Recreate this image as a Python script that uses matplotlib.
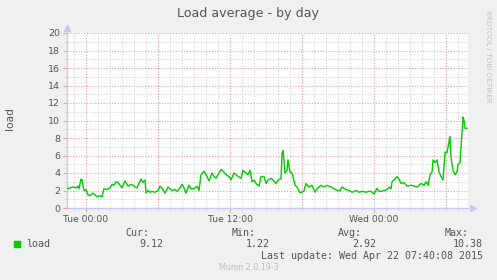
import matplotlib
matplotlib.use("Agg")
import matplotlib.pyplot as plt
from matplotlib.patches import Rectangle
from matplotlib.ticker import MultipleLocator

# hours since Tue 00:00
hours = [-1.58, -1.33, -1.08, -0.83, -0.67, -0.58, -0.42, -0.33, -0.17, 0.0,
         0.17, 0.33, 0.58, 0.75, 0.92, 1.17, 1.33, 1.5, 1.75, 2.0,
         2.17, 2.33, 2.5, 2.67, 2.83, 3.0, 3.25, 3.5, 3.75, 3.92,
         4.08, 4.25, 4.42, 4.58, 4.75, 4.92, 5.0, 5.17, 5.33, 5.5,
         5.75, 6.0, 6.17, 6.42, 6.58, 6.83, 7.0, 7.17, 7.42, 7.58,
         7.83, 8.0, 8.17, 8.33, 8.58, 8.75, 9.0, 9.25, 9.42, 9.58,
         9.83, 10.08, 10.25, 10.5, 10.67, 10.83, 11.08, 11.25, 11.5, 11.75,
         11.92, 12.08, 12.33, 12.58, 12.92, 13.08, 13.33, 13.5, 13.67, 13.83,
         14.0, 14.17, 14.42, 14.58, 14.83, 15.0, 15.17, 15.42, 15.58, 15.83,
         16.08, 16.25, 16.33, 16.42, 16.58, 16.75, 16.83, 17.0, 17.17, 17.42,
         17.58, 17.83, 18.0, 18.17, 18.33, 18.58, 18.83, 19.08, 19.25, 19.58,
         19.83, 20.08, 20.42, 20.67, 20.92, 21.17, 21.33, 21.67, 21.92, 22.17,
         22.5, 22.75, 23.0, 23.33, 23.58, 23.75, 24.0, 24.25, 24.42, 24.58,
         24.83, 25.08, 25.25, 25.42, 25.5, 25.67, 25.92, 26.08, 26.25, 26.5,
         26.75, 27.08, 27.33, 27.58, 27.75, 27.92, 28.17, 28.33, 28.5, 28.67,
         28.83, 28.92, 29.08, 29.25, 29.42, 29.58, 29.75, 29.92, 30.08, 30.17,
         30.33, 30.42, 30.58, 30.75, 30.92, 31.0, 31.17, 31.25, 31.42, 31.5,
         31.58, 31.75]
load = [2.2, 2.3, 2.4, 2.3, 2.5, 2.2, 3.3, 3.2, 2.0, 2.1,
        1.5, 1.4, 1.7, 1.5, 1.3, 1.4, 1.3, 2.2, 2.1, 2.3,
        2.7, 2.6, 3.0, 2.9, 2.6, 2.3, 3.1, 2.5, 2.7, 2.6,
        2.4, 2.3, 2.8, 3.3, 2.9, 3.2, 1.7, 2.0, 1.8, 1.9,
        1.8, 2.0, 2.5, 2.1, 1.7, 2.4, 2.2, 2.0, 2.1, 1.9,
        2.3, 2.7, 2.3, 1.7, 2.6, 2.2, 2.2, 2.5, 2.0, 3.8,
        4.2, 3.6, 3.1, 4.0, 3.6, 3.4, 4.0, 4.4, 4.1, 3.7,
        3.6, 3.2, 4.0, 3.7, 3.4, 4.3, 4.0, 3.8, 4.3, 3.0,
        3.2, 2.8, 2.5, 3.6, 3.6, 2.8, 3.2, 3.4, 3.2, 2.8,
        3.3, 3.3, 6.2, 6.6, 4.0, 4.3, 5.5, 4.1, 4.0, 2.6,
        2.4, 1.75, 1.8, 2.0, 2.8, 2.4, 2.6, 1.8, 2.2, 2.6,
        2.4, 2.6, 2.4, 2.2, 2.0, 2.0, 2.4, 2.1, 2.0, 1.8,
        2.0, 1.8, 1.9, 1.8, 1.9, 1.9, 1.6, 2.25, 1.9, 1.9,
        2.0, 2.1, 2.4, 2.2, 3.0, 3.2, 3.6, 3.3, 2.8, 2.9,
        2.5, 2.6, 2.5, 2.4, 2.6, 2.8, 2.6, 3.0, 2.6, 3.8,
        4.1, 5.5, 5.2, 5.5, 4.1, 3.6, 3.2, 6.4, 6.3, 7.0,
        8.2, 5.7, 4.3, 3.8, 4.1, 5.0, 5.2, 7.0, 10.38, 10.0,
        9.12, 9.12]

tick_hours = [0, 12, 24]
tick_labels = ["Tue 00:00", "Tue 12:00", "Wed 00:00"]
extra_red_hours = [6, 18, 30]
stat_names = ["Cur:", "Min:", "Avg:", "Max:"]
stat_values = ["9.12", "1.22", "2.92", "10.38"]

W, H = 497, 280
BG = "#F0F0F0"
TXT = "#555555"
MAJ = "#E8A0A0"
MIN = "#D4D4D4"
AXC = "#C8C8F0"
DOTS = (0, (1, 1.5))


def fx(x):
    return x / W


def fy(y):
    return 1 - y / H


fig = plt.figure(figsize=(W / 100, H / 100), dpi=100, facecolor=BG)
ax = fig.add_axes([fx(67), fy(208), (468 - 67) / W, (208 - 33) / H])
ax.set_facecolor("white")

ax.set_xlim(-1.583, 31.83)
ax.set_ylim(0, 20)

ax.set_xticks(tick_hours)
ax.set_xticklabels(tick_labels)
ax.xaxis.set_minor_locator(MultipleLocator(1))
ax.yaxis.set_major_locator(MultipleLocator(2))
ax.yaxis.set_minor_locator(MultipleLocator(1))

ax.grid(which="minor", color=MIN, linestyle=DOTS, linewidth=0.8)
ax.grid(which="major", color=MAJ, linestyle=DOTS, linewidth=0.8)
ax.set_axisbelow(True)
for h in extra_red_hours:
    ax.axvline(h, color=MAJ, linestyle=DOTS, linewidth=0.8, zorder=1)

ax.plot(hours, load, color="#00CC00", linewidth=1.0, zorder=3)

ax.tick_params(axis="x", which="major", length=3, color=MAJ, labelsize=6.6,
               labelcolor=TXT, pad=2)
ax.tick_params(axis="x", which="minor", length=2, color=MIN)
ax.tick_params(axis="y", which="major", length=3, color=MAJ, labelsize=6.8,
               labelcolor=TXT, pad=2)
ax.tick_params(axis="y", which="minor", length=2, color=MIN)

for s in ["top", "right"]:
    ax.spines[s].set_visible(False)
for s in ["left", "bottom"]:
    ax.spines[s].set_color(AXC)
    ax.spines[s].set_linewidth(1.0)

ax.plot(1.012, 0, ">", color=AXC, markersize=4, transform=ax.transAxes,
        clip_on=False)
ax.plot(0, 1.03, "^", color=AXC, markersize=4, transform=ax.transAxes,
        clip_on=False)

fig.text(fx(248), fy(14), "Load average - by day", ha="center", va="center",
         fontsize=9.1, color=TXT)
fig.text(fx(10), fy(119), "load", ha="center", va="center", rotation=90,
         fontsize=7.7, color=TXT)
fig.text(fx(488), fy(56), "RRDTOOL / TOBI OETIKER", ha="center", va="center",
         rotation=270, fontsize=5.2, color="#C0C0C0")

mono = "DejaVu Sans Mono"
fig.add_artist(Rectangle((fx(14), fy(247)), 6 / W, 6 / H,
                         transform=fig.transFigure, color="#00CC00"))
fig.text(fx(26), fy(244), "load", ha="left", va="center", fontsize=7.2,
         family=mono, color=TXT)

name_right = [149, 256, 362, 469]
value_right = [163, 270, 376, 483]
for name, val, nr, vr in zip(stat_names, stat_values, name_right, value_right):
    fig.text(fx(nr), fy(233), name, ha="right", va="center", fontsize=7.2,
             family=mono, color=TXT)
    fig.text(fx(vr), fy(244), val, ha="right", va="center", fontsize=7.2,
             family=mono, color=TXT)

fig.text(fx(483), fy(256), "Last update: Wed Apr 22 07:40:08 2015",
         ha="right", va="center", fontsize=7.2, family=mono, color=TXT)
fig.text(fx(249), fy(268), "Munin 2.0.19-3", ha="center", va="center",
         fontsize=5.8, color="#BBBBBB")

fig.savefig("out.png", dpi=100, facecolor=BG)
